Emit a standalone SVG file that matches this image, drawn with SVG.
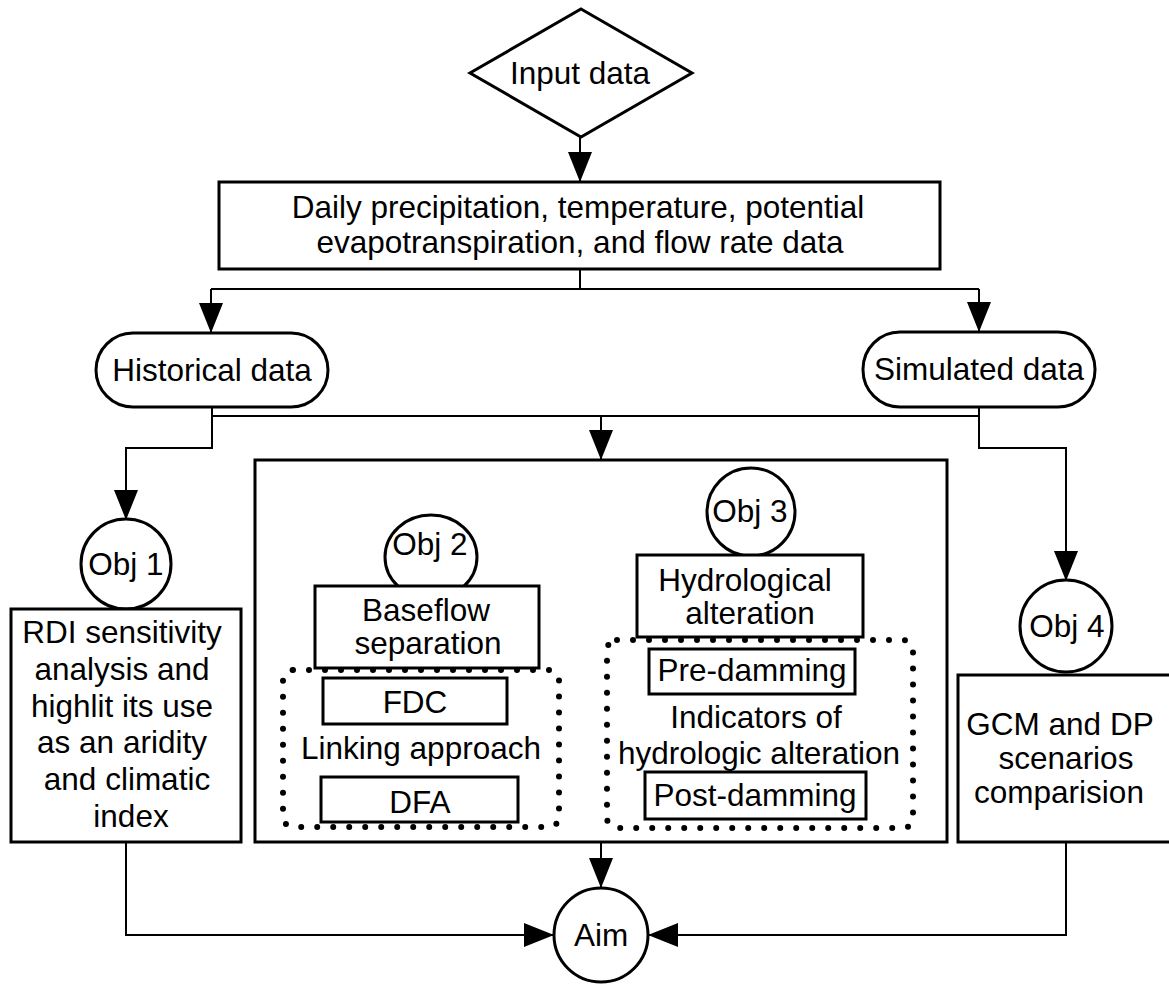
<svg xmlns="http://www.w3.org/2000/svg" width="1169" height="985" viewBox="0 0 1169 985">
<style>
text{font-family:"Liberation Sans",Arial,sans-serif;font-size:31.5px;fill:#000;text-anchor:middle}
.box{fill:#fff;stroke:#000;stroke-width:3}
.dot{fill:none;stroke:#000;stroke-width:6;stroke-dasharray:0 16;stroke-linecap:round}
.con{fill:none;stroke:#000;stroke-width:2}
</style>
<defs>
<marker id="ah" markerUnits="userSpaceOnUse" markerWidth="30" markerHeight="24" refX="30" refY="12" orient="auto">
<path d="M0,0 L30,12 L0,24 z" fill="#000"/>
</marker>
</defs>
<rect width="1169" height="985" fill="#fff"/>
<g id="connectors">
<path class="con" d="M580,137 V182" marker-end="url(#ah)"/>
<path class="con" d="M580,269 V289 M211,289 H979"/>
<path class="con" d="M211,289 V333" marker-end="url(#ah)"/>
<path class="con" d="M979,289 V332" marker-end="url(#ah)"/>
<path class="con" d="M212,407 V416 H979 V407"/>
<path class="con" d="M601,416 V460" marker-end="url(#ah)"/>
<path class="con" d="M212,416 V448 H126 V520" marker-end="url(#ah)"/>
<path class="con" d="M979,416 V448 H1066 V581" marker-end="url(#ah)"/>
<path class="con" d="M601,842 V888" marker-end="url(#ah)"/>
<path class="con" d="M126,842 V935 H554" marker-end="url(#ah)"/>
<path class="con" d="M1066,842 V935 H648" marker-end="url(#ah)"/>
</g>
<g id="input">
<polygon class="box" points="581,9 692,73 581,137 470,73"/>
<text x="580" y="84">Input data</text>
</g>
<g id="daily">
<rect class="box" x="219" y="182" width="721" height="87"/>
<text x="578" y="218">Daily precipitation, temperature, potential</text>
<text x="580" y="253">evapotranspiration, and flow rate data</text>
</g>
<g id="historical">
<rect class="box" x="96" y="333" width="232" height="74" rx="37"/>
<text x="212" y="381">Historical data</text>
</g>
<g id="simulated">
<rect class="box" x="863" y="332" width="232" height="75" rx="37"/>
<text x="979" y="380">Simulated data</text>
</g>
<g id="obj1">
<circle class="box" cx="126" cy="564" r="45"/>
<text x="126" y="575">Obj 1</text>
</g>
<g id="obj1box">
<rect class="box" x="11" y="609" width="230" height="233"/>
<text x="122" y="643">RDI sensitivity</text>
<text x="122" y="680">analysis and</text>
<text x="122" y="717">highlit its use</text>
<text x="122" y="753">as an aridity</text>
<text x="127" y="790">and climatic</text>
<text x="131" y="827">index</text>
</g>
<g id="middle">
<rect class="box" x="255" y="460" width="692" height="382"/>
</g>
<g id="obj2">
<ellipse class="box" cx="431" cy="557" rx="46" ry="42"/>
<text x="430" y="555">Obj 2</text>
</g>
<g id="baseflow">
<rect class="box" x="315" y="586" width="224" height="82"/>
<text x="426" y="621">Baseflow</text>
<text x="428" y="654">separation</text>
</g>
<g id="fdc">
<rect class="box" x="323" y="678" width="184" height="46"/>
<text x="415" y="713">FDC</text>
</g>
<g id="dfa">
<rect class="box" x="321" y="777" width="197" height="45"/>
<text x="420" y="813">DFA</text>
</g>
<g id="linking">
<rect class="dot" x="283" y="670" width="276" height="157" rx="10"/>
<text x="421" y="759">Linking approach</text>
</g>
<g id="obj3">
<circle class="box" cx="751" cy="512" r="44"/>
<text x="750" y="522">Obj 3</text>
</g>
<g id="hydrological">
<rect class="box" x="637" y="555" width="226" height="82"/>
<text x="745" y="591">Hydrological</text>
<text x="750" y="624">alteration</text>
</g>
<g id="predamming">
<rect class="box" x="649" y="649" width="206" height="45"/>
<text x="752" y="681">Pre-damming</text>
</g>
<g id="postdamming">
<rect class="box" x="645" y="772" width="221" height="47"/>
<text x="755" y="806">Post-damming</text>
</g>
<g id="iha">
<rect class="dot" x="607" y="640" width="306" height="188" rx="10"/>
<text x="756" y="728">Indicators of</text>
<text x="759" y="764">hydrologic alteration</text>
</g>
<g id="obj4">
<circle class="box" cx="1066" cy="626" r="46"/>
<text x="1067" y="637">Obj 4</text>
</g>
<g id="obj4box">
<rect class="box" x="958" y="675" width="215" height="167"/>
<text x="1060" y="735">GCM and DP</text>
<text x="1066" y="769">scenarios</text>
<text x="1059" y="803">comparision</text>
</g>
<g id="aim">
<circle class="box" cx="601" cy="935" r="47"/>
<text x="601" y="946">Aim</text>
</g>
</svg>
